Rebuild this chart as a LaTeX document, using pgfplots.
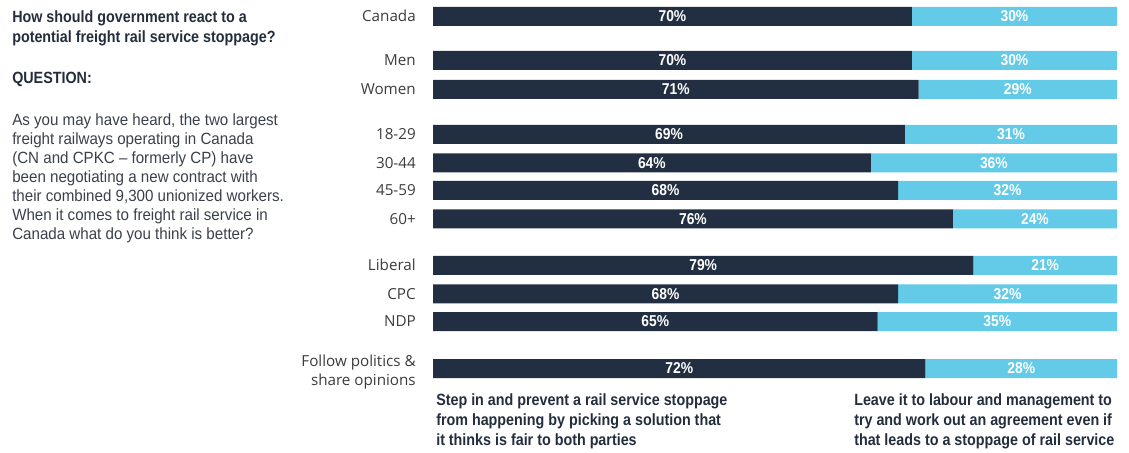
\documentclass[border=0pt]{standalone}
\usepackage{pgfplots}
\usepackage{pgfplotstable}
\pgfplotsset{compat=1.18}
\usepackage{fontspec}
\setmainfont{Liberation Sans}[FakeStretch=0.93, BoldFeatures={FakeStretch=0.88}]
\newfontfamily\catfont{Open Sans}
\definecolor{dark}{HTML}{222F42}
\definecolor{light}{HTML}{63CAE8}
\definecolor{ttl}{HTML}{232D3C}
\definecolor{body}{HTML}{3A404B}
\definecolor{cat}{HTML}{3C3C3C}

\pgfplotstableread{
y a b
16.5 70 30
60.5 70 30
89.5 71 29
134.5 69 31
163 64 36
190.5 68 32
219 76 24
265.5 79 21
294 68 32
321.5 65 35
368.5 72 28
}\data

\begin{document}
\begin{tikzpicture}
\begin{axis}[at={(0,0)}, anchor=south west, scale only axis,
  width=846.75pt, height=339.75pt,
  xmin=-63.304, xmax=101.754, ymin=0, ymax=453, y dir=reverse,
  hide axis, clip=false, xbar stacked, bar width=14.25pt,
  point meta=explicit,
  /pgf/number format/assume math mode=true,
  nodes near coords={\textbf{\pgfmathprintnumber{\pgfplotspointmeta}\%}},
  every node near coord/.append style={text=white, font=\fontsize{11.8pt}{12pt}\selectfont},
]
\addplot[fill=dark, draw=none] table[x=a, y=y, meta=a] {\data};
\addplot[fill=light, draw=none] table[x=b, y=y, meta=b] {\data};
\end{axis}
\begin{scope}[shift={(0,339.75pt)}, x=0.75pt, y=-0.75pt]
  \path (0,0) rectangle (1129,453);
  \tikzset{t/.style={anchor=base west, inner sep=0pt, font=\fontsize{12.2pt}{14pt}\selectfont}}
  \tikzset{c/.style={anchor=base east, inner sep=0pt, text=cat, font=\catfont\fontsize{11.4pt}{14pt}\selectfont}}
  % title
  \node[t, text=ttl] at (12,23) {\textbf{How should government react to a}};
  \node[t, text=ttl] at (12,42.5) {\textbf{potential freight rail service stoppage?}};
  \node[t, text=ttl] at (12,84) {\textbf{QUESTION:}};
  \node[t, text=body] at (12,126) {As you may have heard, the two largest};
  \node[t, text=body] at (12,145) {freight railways operating in Canada};
  \node[t, text=body] at (12,164) {(CN and CPKC -- formerly CP) have};
  \node[t, text=body] at (12,183) {been negotiating a new contract with};
  \node[t, text=body] at (12,202) {their combined 9,300 unionized workers.};
  \node[t, text=body] at (12,221) {When it comes to freight rail service in};
  \node[t, text=body] at (12,240) {Canada what do you think is better?};
  % categories
  \node[c] at (416,22) {Canada};
  \node[c] at (416,66) {Men};
  \node[c] at (416,95) {Women};
  \node[c] at (416,140) {18-29};
  \node[c] at (416,168.5) {30-44};
  \node[c] at (416,196) {45-59};
  \node[c] at (416,224.5) {60+};
  \node[c] at (416,271) {Liberal};
  \node[c] at (416,299.5) {CPC};
  \node[c] at (416,327) {NDP};
  \node[c] at (416,366.5) {Follow politics \&};
  \node[c] at (416,385.5) {share opinions};
  % bottom labels
  \node[t, text=ttl] at (436,406) {\textbf{Step in and prevent a rail service stoppage}};
  \node[t, text=ttl] at (436,426) {\textbf{from happening by picking a solution that}};
  \node[t, text=ttl] at (436,446) {\textbf{it thinks is fair to both parties}};
  \node[t, text=ttl] at (854,406) {\textbf{Leave it to labour and management to}};
  \node[t, text=ttl] at (854,426) {\textbf{try and work out an agreement even if}};
  \node[t, text=ttl] at (854,446) {\textbf{that leads to a stoppage of rail service}};
\end{scope}
\end{tikzpicture}
\end{document}
